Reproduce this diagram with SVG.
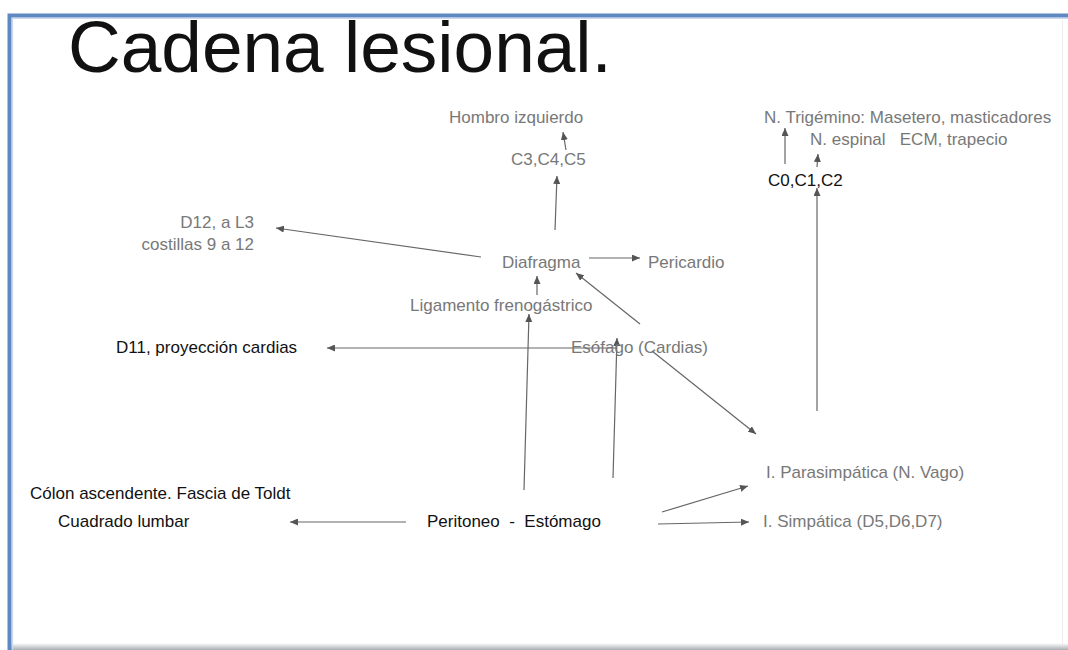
<svg xmlns="http://www.w3.org/2000/svg" width="1068" height="650" viewBox="0 0 1068 650">
  <style>
    text { font-family: "Liberation Sans", Arial, sans-serif; font-size: 17px; white-space: pre; }
    .g { fill: #787878; }
    .k { fill: #111111; }
    .title { font-size: 73px; fill: #111111; }
    .c line { stroke: #666666; stroke-width: 1.2; fill: none; marker-end: url(#ah); }
  </style>
  <defs>
    <marker id="ah" markerUnits="userSpaceOnUse" markerWidth="8" markerHeight="7" refX="8" refY="3.5" orient="auto">
      <path d="M0,0 L8,3.5 L0,7 z" fill="#555555"/>
    </marker>
    <linearGradient id="shb" x1="0" y1="0" x2="0" y2="1">
      <stop offset="0" stop-color="#ffffff"/>
      <stop offset="1" stop-color="#a9aeb2"/>
    </linearGradient>
  </defs>
  <rect width="1068" height="650" fill="#ffffff"/>
  <g id="frame">
    <rect x="10" y="643" width="1058" height="7" fill="url(#shb)"/>
    <line x1="1062.5" y1="20" x2="1062.5" y2="645" stroke="#eeeeee" stroke-width="1"/>
    <path d="M9.5,650 V15.5 H1068" fill="none" stroke="#5d88c2" stroke-width="4"/>
    <path d="M12.5,650 V18.5 H1068" fill="none" stroke="#c9d8ec" stroke-width="1.2"/>
  </g>
  <g id="title"><text class="title" x="68" y="72">Cadena lesional.</text></g>

  <g class="c" id="connectors">
    <line x1="566" y1="150" x2="563" y2="132"/>
    <line x1="555" y1="230" x2="557" y2="176"/>
    <line x1="785" y1="164" x2="785" y2="128"/>
    <line x1="817" y1="167" x2="818" y2="154"/>
    <line x1="817" y1="411" x2="817" y2="188"/>
    <line x1="481" y1="257" x2="276" y2="228"/>
    <line x1="589" y1="258" x2="640" y2="258"/>
    <line x1="537" y1="295" x2="537" y2="276"/>
    <line x1="640" y1="324" x2="576" y2="273"/>
    <line x1="617" y1="348" x2="327" y2="348"/>
    <line x1="652" y1="351" x2="756" y2="434"/>
    <line x1="524" y1="490" x2="529" y2="314"/>
    <line x1="613" y1="478" x2="617" y2="338"/>
    <line x1="406" y1="522" x2="290" y2="522"/>
    <line x1="662" y1="512" x2="748" y2="486"/>
    <line x1="658" y1="524" x2="749" y2="522"/>
  </g>

  <g id="hombro"><text class="g" x="449" y="123">Hombro izquierdo</text></g>
  <g id="c3c4c5"><text class="g" x="511" y="165">C3,C4,C5</text></g>
  <g id="trigemino"><text class="g" x="764" y="123">N. Trigémino: Masetero, masticadores</text></g>
  <g id="espinal"><text class="g" x="810" y="145">N. espinal   ECM, trapecio</text></g>
  <g id="c0c1c2"><text class="k" x="768" y="186">C0,C1,C2</text></g>
  <g id="d12">
    <text class="g" x="254" y="228" text-anchor="end">D12, a L3</text>
    <text class="g" x="254" y="250" text-anchor="end">costillas 9 a 12</text>
  </g>
  <g id="diafragma"><text class="g" x="502" y="268">Diafragma</text></g>
  <g id="pericardio"><text class="g" x="648" y="268">Pericardio</text></g>
  <g id="ligamento"><text class="g" x="410" y="311">Ligamento frenogástrico</text></g>
  <g id="d11"><text class="k" x="116" y="353">D11, proyección cardias</text></g>
  <g id="esofago"><text class="g" x="571" y="353">Esófago (Cardias)</text></g>
  <g id="parasimpatica"><text class="g" x="766" y="478">I. Parasimpática (N. Vago)</text></g>
  <g id="simpatica"><text class="g" x="763" y="527">I. Simpática (D5,D6,D7)</text></g>
  <g id="colon"><text class="k" x="30" y="499">Cólon ascendente. Fascia de Toldt</text></g>
  <g id="cuadrado"><text class="k" x="58" y="527">Cuadrado lumbar</text></g>
  <g id="peritoneo"><text class="k" x="427" y="527">Peritoneo  -  Estómago</text></g>
</svg>
